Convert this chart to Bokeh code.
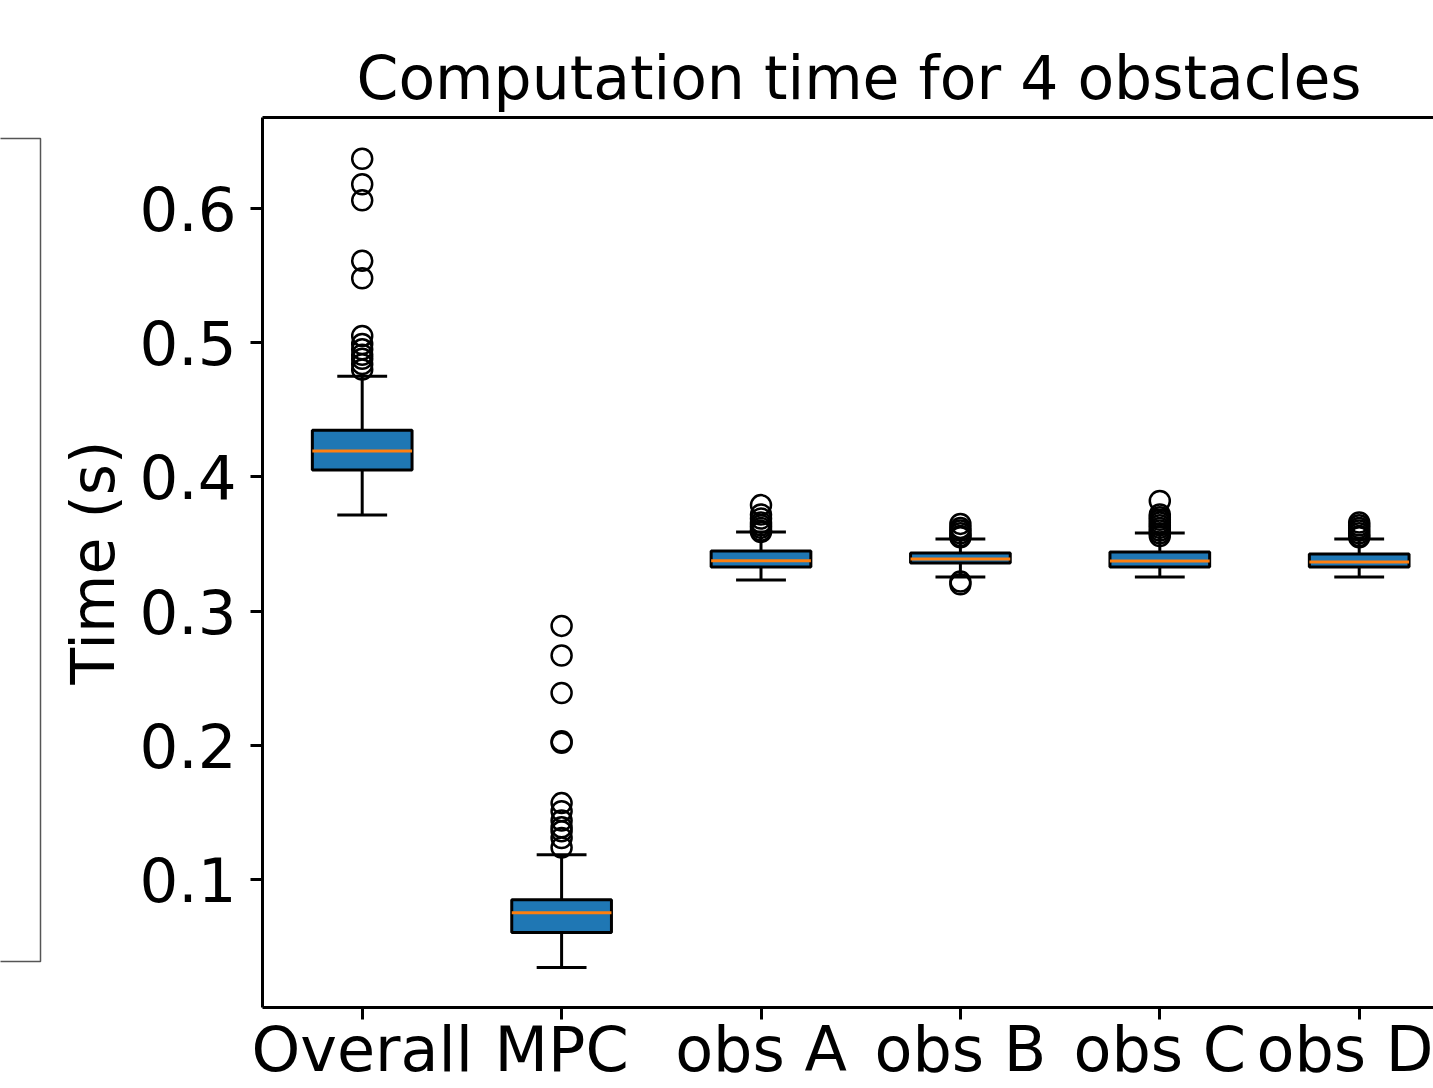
from bokeh.plotting import figure
from bokeh.models import FixedTicker, LinearAxis, Range1d, ColumnDataSource
from bokeh.layouts import row
from bokeh.embed import file_html
from bokeh.resources import INLINE

# ---- data ----
categories = ["Overall", "MPC", "obs A", "obs B", "obs C", "obs D"]
q1 = [0.4051, 0.0606, 0.3329, 0.3359, 0.3329, 0.3329]
median = [0.4192, 0.0754, 0.3376, 0.3388, 0.3374, 0.3366]
q3 = [0.4348, 0.0851, 0.3448, 0.3433, 0.3440, 0.3426]
whisker_low = [0.3716, 0.0345, 0.3232, 0.3254, 0.3254, 0.3254]
whisker_high = [0.4750, 0.1186, 0.3589, 0.3537, 0.3582, 0.3537]
outliers_overall = [0.637, 0.618, 0.606, 0.561, 0.548, 0.505, 0.499, 0.495, 0.491, 0.488, 0.484, 0.480]
outliers_mpc = [0.289, 0.267, 0.239, 0.203, 0.202, 0.157, 0.151, 0.144, 0.139, 0.136, 0.131, 0.124]
outliers_obs_a = [0.379, 0.372, 0.369, 0.366, 0.364, 0.362, 0.360, 0.359]
outliers_obs_b = [0.365, 0.362, 0.360, 0.358, 0.356, 0.355, 0.322, 0.320]
outliers_obs_c = [0.382, 0.372, 0.370, 0.368, 0.366, 0.364, 0.362, 0.360, 0.358, 0.356]
outliers_obs_d = [0.366, 0.364, 0.362, 0.360, 0.358, 0.356, 0.355]
y_ticks = [0.1, 0.2, 0.3, 0.4, 0.5, 0.6]
title_text = "Computation time for 4 obstacles"
y_label = "Time (s)"

outliers = [outliers_overall, outliers_mpc, outliers_obs_a,
            outliers_obs_b, outliers_obs_c, outliers_obs_d]

FONT = "DejaVu Sans"
BOX_W = 0.5
positions = list(range(1, len(categories) + 1))

src = ColumnDataSource(dict(
    x=positions,
    q1=q1, med=median, q3=q3, lo=whisker_low, hi=whisker_high,
    box_l=[x - BOX_W / 2 for x in positions],
    box_r=[x + BOX_W / 2 for x in positions],
    cap_l=[x - BOX_W / 4 for x in positions],
    cap_r=[x + BOX_W / 4 for x in positions],
))
fl_x = [positions[i] for i, lst in enumerate(outliers) for _ in lst]
fl_y = [v for lst in outliers for v in lst]

H = 1088
FRAME_H = 891

# ---- left decoration (edge of a neighbouring panel) ----
lp = figure(width=42, height=H, x_range=Range1d(0, 42), y_range=Range1d(0, FRAME_H),
            toolbar_location=None, output_backend="svg",
            x_axis_location=None, y_axis_location=None, min_border=0)
lp.outline_line_color = None
lp.grid.visible = False
lp.multi_line(xs=[[-5, 40, 40, -5]], ys=[[870, 870, 46, 46]],
              line_color="#555555", line_width=1.5)

# ---- main figure ----
p = figure(width=1391, height=H,
           x_range=Range1d(0.5, 6.3726), y_range=Range1d(0.00476, 0.66771),
           toolbar_location=None, output_backend="svg",
           min_border_left=220, min_border_right=0,
           min_border_top=117, min_border_bottom=80,
           title=title_text)
p.outline_line_color = None
p.grid.visible = False
p.background_fill_color = "white"
p.border_fill_color = "white"

p.title.align = "left"
p.title.offset = 94
p.title.text_font = FONT
p.title.text_font_size = "60px"
p.title.text_font_style = "normal"
p.title.text_color = "black"
p.title.standoff = 10

for ax in (p.xaxis[0], p.yaxis[0]):
    ax.axis_line_width = 3
    ax.axis_line_color = "black"
    ax.major_tick_out = 12
    ax.major_tick_in = 0
    ax.major_tick_line_width = 3
    ax.minor_tick_out = 0
    ax.minor_tick_in = 0
    ax.major_label_text_font = FONT
    ax.major_label_text_font_size = "61px"
    ax.major_label_text_color = "black"

p.xaxis[0].ticker = FixedTicker(ticks=positions)
p.xaxis[0].major_label_overrides = {x: c for x, c in zip(positions, categories)}
p.xaxis[0].major_label_text_font_size = "62px"
p.xaxis[0].major_label_standoff = -7

p.yaxis[0].ticker = FixedTicker(ticks=y_ticks)
p.yaxis[0].major_label_standoff = 14
p.yaxis[0].axis_label = y_label
p.yaxis[0].axis_label_text_font = FONT
p.yaxis[0].axis_label_text_font_size = "60px"
p.yaxis[0].axis_label_text_font_style = "normal"
p.yaxis[0].axis_label_text_color = "black"
p.yaxis[0].axis_label_standoff = 8

top = LinearAxis(ticker=FixedTicker(ticks=[]), axis_line_width=3, axis_line_color="black",
                 major_tick_out=0, major_tick_in=0, minor_tick_out=0, minor_tick_in=0,
                 major_label_text_font_size="0px")
p.add_layout(top, "above")

LW = 3
p.segment(x0="x", y0="q3", x1="x", y1="hi", source=src, line_color="black", line_width=LW)
p.segment(x0="x", y0="lo", x1="x", y1="q1", source=src, line_color="black", line_width=LW)
p.segment(x0="cap_l", y0="hi", x1="cap_r", y1="hi", source=src, line_color="black", line_width=LW)
p.segment(x0="cap_l", y0="lo", x1="cap_r", y1="lo", source=src, line_color="black", line_width=LW)
p.vbar(x="x", width=BOX_W, bottom="q1", top="q3", source=src,
       fill_color="#1f77b4", line_color="black", line_width=LW)
p.segment(x0="box_l", y0="med", x1="box_r", y1="med", source=src,
          line_color="#ff7f0e", line_width=LW)
p.scatter(x=fl_x, y=fl_y, marker="circle", size=20, fill_color=None,
          line_color="black", line_width=2.5)

layout = row(lp, p)
open("out.html", "w").write(file_html(layout, INLINE))
